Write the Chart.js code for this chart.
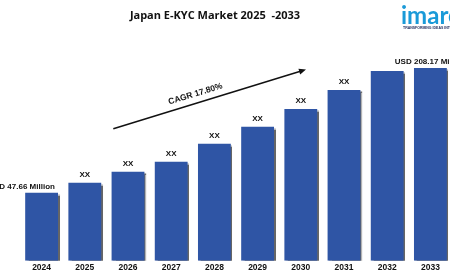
<!DOCTYPE html>
<html>
<head>
<meta charset="utf-8">
<script src="https://cdn.jsdelivr.net/npm/chart.js@4/dist/chart.umd.min.js"></script>
<style>
  html, body { margin: 0; padding: 0; background: #fff; overflow: hidden; }
  #wrap { position: absolute; left: 0; top: 0; width: 452px; height: 280px; }
</style>
</head>
<body>
<div id="wrap"><canvas id="ekycChart" width="452" height="280"></canvas></div>
<script>
// market size, USD million (2024 and 2033 given, the rest)
const years = ['2024', '2025', '2026', '2027', '2028', '2029', '2030', '2031', '2032', '2033'];
const marketSize = [47.66, 60.5, 74.6, 87.5, 110.6, 132.4, 155.5, 179.9, 204.3, 208.17];
const valueLabels = ['USD 47.66 Million', 'XX', 'XX', 'XX', 'XX', 'XX', 'XX', 'XX', '', 'USD 208.17 Million'];
const chartTitle = 'Japan E-KYC Market 2025  -2033';
const cagrText = 'CAGR 17.80%';

// the picture's bars are not drawn from zero
const yFloor = -39.67;
const barBlue = '#2f55a5';

const decorations = {
  id: 'decorations',
  beforeDatasetsDraw(chart) {
    const ctx = chart.ctx;
    ctx.save();
    ctx.shadowColor = 'rgba(0,0,0,0.6)';
    ctx.shadowOffsetX = 1.5;
    ctx.shadowOffsetY = 1;
    ctx.shadowBlur = 1;
  },
  afterDatasetsDraw(chart) {
    const ctx = chart.ctx;
    ctx.restore();
    const x = chart.scales.x, y = chart.scales.y;
    const meta = chart.getDatasetMeta(0);

    // labels above bars
    ctx.save();
    ctx.fillStyle = '#111';
    ctx.textAlign = 'center';
    ctx.textBaseline = 'bottom';
    ctx.font = 'bold 8px "Liberation Sans", Arial, sans-serif';
    meta.data.forEach(function(bar, i) {
      if (!valueLabels[i]) return;
      let cx = bar.x;
      if (i === 0) cx -= 20;
      const gap = valueLabels[i] === 'XX' ? 4 : 2;
      ctx.fillText(valueLabels[i], cx, bar.y - gap);
    });

    // CAGR arrow
    const x1 = x.getPixelForValue(1.66), y1 = y.getPixelForValue(130);
    const x2 = x.getPixelForValue(6.12), y2 = y.getPixelForValue(206);
    const ang = Math.atan2(y2 - y1, x2 - x1);
    ctx.strokeStyle = '#111';
    ctx.lineWidth = 1.5;
    ctx.beginPath();
    ctx.moveTo(x1, y1);
    ctx.lineTo(x2 - 5 * Math.cos(ang), y2 - 5 * Math.sin(ang));
    ctx.stroke();
    ctx.beginPath();
    ctx.moveTo(x2, y2);
    ctx.lineTo(x2 - 7 * Math.cos(ang) + 3 * Math.sin(ang), y2 - 7 * Math.sin(ang) - 3 * Math.cos(ang));
    ctx.lineTo(x2 - 7 * Math.cos(ang) - 3 * Math.sin(ang), y2 - 7 * Math.sin(ang) + 3 * Math.cos(ang));
    ctx.closePath();
    ctx.fillStyle = '#111';
    ctx.fill();

    const mx = x1 + (x2 - x1) * 0.44, my = y1 + (y2 - y1) * 0.44;
    ctx.translate(mx + 9 * Math.sin(ang), my - 9 * Math.cos(ang));
    ctx.rotate(ang);
    ctx.font = 'bold 8.5px "Liberation Sans", Arial, sans-serif';
    ctx.textBaseline = 'middle';
    ctx.fillText(cagrText, 0, 0);
    ctx.restore();
  },
  afterDraw(chart) {
    const ctx = chart.ctx;
    ctx.save();
    ctx.fillStyle = '#111';
    ctx.textAlign = 'center';
    ctx.textBaseline = 'middle';
    ctx.font = 'bold 11px "Open Sans", sans-serif';
    ctx.fillText(chartTitle, 215, 16);

    // logo
    ctx.textAlign = 'left';
    ctx.textBaseline = 'alphabetic';
    ctx.fillStyle = '#1a9ad8';
    ctx.font = 'bold 24px "Lato", sans-serif';
    ctx.fillText('imarc', 401, 24);
    ctx.fillStyle = '#1d2a5a';
    ctx.font = 'bold 3.5px "Liberation Sans", sans-serif';
    ctx.fillText('TRANSFORMING IDEAS INTO IMPACT', 403, 29);
    ctx.restore();
  }
};

new Chart(document.getElementById('ekycChart'), {
  type: 'bar',
  data: {
    labels: years,
    datasets: [{
      data: marketSize,
      base: yFloor,
      backgroundColor: barBlue,
      borderWidth: 0,
      barPercentage: 0.76,
      categoryPercentage: 1
    }]
  },
  options: {
    responsive: false,
    animation: false,
    devicePixelRatio: 1,
    layout: {
      padding: { top: 40, left: 20, right: 0, bottom: 5 }
    },
    plugins: {
      legend: { display: false },
      title: { display: false },
      tooltip: { enabled: false }
    },
    scales: {
      x: {
        grid: { display: false, drawTicks: false },
        border: { display: false },
        ticks: {
          color: '#111',
          padding: 2,
          font: { family: '"Liberation Sans", Arial, sans-serif', size: 8.5, weight: 'bold' }
        }
      },
      y: {
        display: false,
        min: yFloor,
        max: 244
      }
    }
  },
  plugins: [decorations]
});
</script>
</body>
</html>
